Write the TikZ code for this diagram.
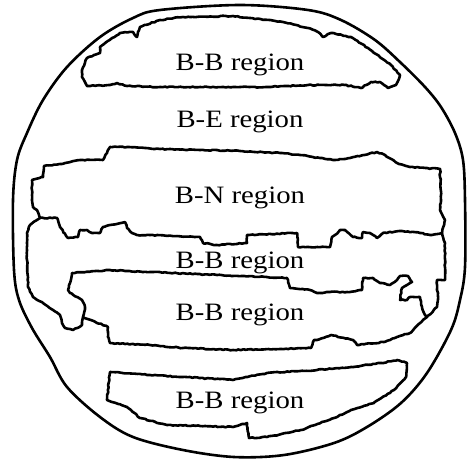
\documentclass[tikz,border=0pt]{standalone}
\usepackage{fontspec}
\setmainfont{Liberation Serif}
\usetikzlibrary{decorations.pathmorphing}
\tikzset{
  ring/.style={line width=2.6pt, line join=round},
  blob/.style={line width=2.6pt, line join=round, line cap=round,
    decorate, decoration={random steps, segment length=2.5pt, amplitude=0.5pt}},
  label/.style={anchor=base, inner sep=0pt, font=\fontsize{25}{28}\selectfont}
}
\newcommand{\regtext}[1]{\scalebox{1.15}[1]{#1}}
\begin{document}
\begin{tikzpicture}[x=1pt,y=-1pt]
\pgfmathsetseed{7}
\useasboundingbox (0,0) rectangle (468,461);
% outer boundary
\draw[ring] plot[smooth cycle, tension=0.55] coordinates {
 (240,5) (308,10) (341,20) (375,40) (401,63) (425,87) (441,107) (455,133)
 (463,160) (465,200) (465,267) (460,300) (451,330) (427,373) (401,403)
 (367,427) (334,443) (284,455) (234,457) (183,450) (133,437) (100,417)
 (67,387) (50,357) (32,328) (19,300) (14,270) (13,200) (17,160) (27,133)
 (43,100) (67,67) (100,37) (133,18) (160,10)};
% top B-B blob
\draw[blob] (82,70) -- (87,58) -- (100,53) -- (100,47) -- (120,33) -- (133,32)
 -- (137,37) -- (140,27) -- (160,20) -- (183,17) -- (233,16) -- (283,22)
 -- (308,28) -- (318,32) -- (323,37) -- (331,33) -- (351,37) -- (368,48)
 -- (381,58) -- (391,65) -- (400,75) -- (396,85) -- (388,88) -- (380,82)
 -- (371,82) -- (361,88) -- (345,85) -- (308,85) -- (267,87) -- (233,87)
 -- (200,87) -- (160,87) -- (127,86) -- (117,83) -- (110,85) -- (87,86)
 -- (82,77) -- cycle;
% B-N blob
\draw[blob] (110,147) -- (127,147) -- (160,149) -- (200,150) -- (240,151)
 -- (280,153) -- (300,155) -- (320,158) -- (333,160) -- (350,158) -- (377,152)
 -- (385,155) -- (397,163) -- (410,167) -- (440,169) -- (441,200) -- (440,210)
 -- (445,220) -- (442,233) -- (430,235) -- (420,233) -- (402,231) -- (383,233)
 -- (377,238) -- (370,233) -- (363,232) -- (362,238) -- (353,237) -- (345,230)
 -- (340,230) -- (335,235) -- (332,237) -- (330,247) -- (298,247) -- (297,233)
 -- (247,235) -- (247,243) -- (217,245) -- (203,243) -- (200,237) -- (150,235)
 -- (137,235) -- (132,233) -- (127,228) -- (125,222) -- (110,225) -- (103,227)
 -- (100,233) -- (92,233) -- (87,230) -- (80,230) -- (78,237) -- (68,238)
 -- (60,227) -- (57,218) -- (40,218) -- (37,210) -- (33,207) -- (32,195)
 -- (32,180) -- (43,177) -- (44,166) -- (60,164) -- (80,160) -- (103,160)
 -- (107,153) -- cycle;
% left outline of middle B-B region with knob
\draw[blob] (40,218) -- (30,225) -- (27,233) -- (27,260) -- (28,287) -- (33,297)
 -- (43,303) -- (53,310) -- (60,315) -- (62,323) -- (65,328) -- (73,330)
 -- (82,325) -- (83,317);
% right outline of middle B-B region
\draw[blob] (442,233) -- (445,243) -- (445,280) -- (437,280) -- (437,290)
 -- (438,293) -- (437,307) -- (427,317);
% lower-middle B-B blob
\draw[blob] (83,317) -- (85,307) -- (82,300) -- (70,293) -- (68,290) -- (70,283)
 -- (72,273) -- (110,270) -- (150,272) -- (217,275) -- (287,278) -- (290,288)
 -- (310,290) -- (317,293) -- (330,292) -- (347,292) -- (362,290) -- (363,278)
 -- (373,278) -- (380,283) -- (390,285) -- (397,280) -- (400,276) -- (408,276)
 -- (412,282) -- (407,285) -- (402,288) -- (400,300) -- (407,300) -- (410,297)
 -- (420,297) -- (422,307) -- (425,315) -- (427,317) -- (420,323) -- (410,333)
 -- (397,337) -- (390,340) -- (384,342) -- (357,345) -- (353,340) -- (331,335)
 -- (317,340) -- (314,340) -- (311,348) -- (233,350) -- (183,348) -- (150,345)
 -- (110,343) -- (108,337) -- (108,327) -- cycle;
% bottom B-B blob
\draw[blob] (110,372) -- (150,375) -- (233,380) -- (267,373) -- (317,370)
 -- (351,367) -- (381,363) -- (397,360) -- (407,363) -- (406,377) -- (394,390)
 -- (374,403) -- (351,410) -- (334,418) -- (301,430) -- (267,437) -- (249,438)
 -- (247,423) -- (233,427) -- (167,425) -- (140,418) -- (127,407) -- (107,400)
 -- cycle;
% labels
\node[label] (t1) at (240,70) {\regtext{B-B region}};
\node[label] (t2) at (240,127) {\regtext{B-E region}};
\node[label] (t3) at (240,203) {\regtext{B-N region}};
\node[label] (t4) at (240,268) {\regtext{B-B region}};
\node[label] (t5) at (240,320) {\regtext{B-B region}};
\node[label] (t6) at (240,408) {\regtext{B-B region}};
\end{tikzpicture}
\end{document}
